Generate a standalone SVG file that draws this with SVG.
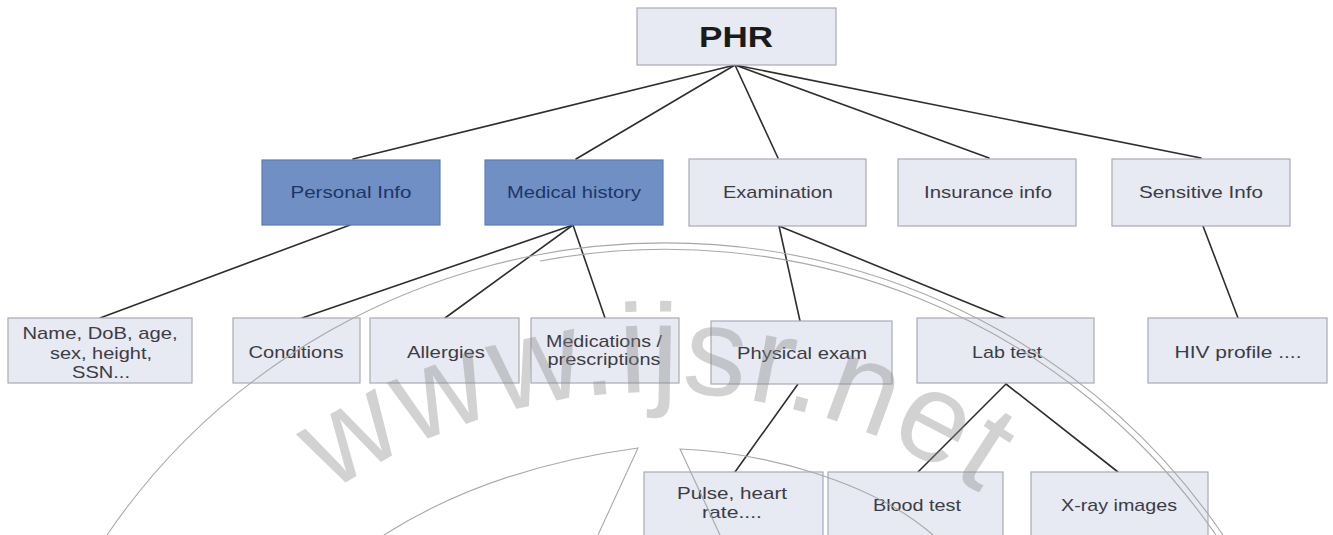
<svg xmlns="http://www.w3.org/2000/svg" width="1333" height="535" viewBox="0 0 1333 535">
  <style>
    .box { fill: #e7e9f3; stroke: #a9abb6; stroke-width: 1.2; }
    .hl { fill: #6f8fc5; stroke: #5d7db3; stroke-width: 1.2; }
    .lbl { font-family: "Liberation Sans", Arial, sans-serif; font-size: 17px; fill: #3c3c44; text-anchor: middle; }
    .lbl-hl { font-family: "Liberation Sans", Arial, sans-serif; font-size: 17px; fill: #1d3567; text-anchor: middle; }
    .root { font-family: "Liberation Sans", Arial, sans-serif; font-size: 30px; font-weight: bold; fill: #1a1a1a; text-anchor: middle; }
    .edge { stroke: #2e2e2e; stroke-width: 1.6; fill: none; stroke-linecap: round; }
    .mark-line { stroke: #a8a8a8; stroke-width: 1.1; fill: none; }
    .mark-text { font-family: "Liberation Sans", Arial, sans-serif; font-size: 126px; fill: #8a8a8a; opacity: 0.38; }
  </style>
  <defs>
    <path id="markArc" d="M 161.4 677 A 570 570 0 0 1 1148.6 677"/>
  </defs>
  <rect width="1333" height="535" fill="#ffffff"/>

  <!-- tree edges -->
  <g id="connectors">
    <line class="edge" x1="735" y1="65" x2="353" y2="159"/>
    <line class="edge" x1="735" y1="65" x2="576" y2="159"/>
    <line class="edge" x1="735" y1="65" x2="778" y2="158"/>
    <line class="edge" x1="735" y1="65" x2="989" y2="158"/>
    <line class="edge" x1="735" y1="65" x2="1201" y2="158"/>
    <line class="edge" x1="350" y1="225" x2="100" y2="318"/>
    <line class="edge" x1="573" y1="225" x2="302" y2="318"/>
    <line class="edge" x1="573" y1="225" x2="445" y2="318"/>
    <line class="edge" x1="573" y1="225" x2="605" y2="318"/>
    <line class="edge" x1="779" y1="226" x2="800" y2="321"/>
    <line class="edge" x1="779" y1="226" x2="1005" y2="318"/>
    <line class="edge" x1="1203" y1="226" x2="1238" y2="318"/>
    <line class="edge" x1="798" y1="384" x2="735" y2="472"/>
    <line class="edge" x1="1006" y1="384" x2="918" y2="472"/>
    <line class="edge" x1="1006" y1="384" x2="1118" y2="472"/>
  </g>

  <!-- root -->
  <g id="phr">
    <rect class="box" x="637" y="8" width="199" height="57"/>
    <text class="root" x="736" y="47" textLength="74" lengthAdjust="spacingAndGlyphs">PHR</text>
  </g>

  <!-- first level -->
  <g id="personal-info">
    <rect class="hl" x="262" y="160" width="178" height="65"/>
    <text class="lbl-hl" x="351" y="198" textLength="121" lengthAdjust="spacingAndGlyphs">Personal Info</text>
  </g>
  <g id="medical-history">
    <rect class="hl" x="485" y="160" width="178" height="65"/>
    <text class="lbl-hl" x="574" y="198" textLength="134" lengthAdjust="spacingAndGlyphs">Medical history</text>
  </g>
  <g id="examination">
    <rect class="box" x="689" y="159" width="177" height="67"/>
    <text class="lbl" x="778" y="198" textLength="110" lengthAdjust="spacingAndGlyphs">Examination</text>
  </g>
  <g id="insurance-info">
    <rect class="box" x="898" y="159" width="178" height="67"/>
    <text class="lbl" x="988" y="198" textLength="128" lengthAdjust="spacingAndGlyphs">Insurance info</text>
  </g>
  <g id="sensitive-info">
    <rect class="box" x="1112" y="159" width="178" height="67"/>
    <text class="lbl" x="1201" y="198" textLength="124" lengthAdjust="spacingAndGlyphs">Sensitive Info</text>
  </g>

  <!-- second level -->
  <g id="identity">
    <rect class="box" x="8" y="318" width="184" height="65"/>
    <text class="lbl" x="100" y="339" textLength="155" lengthAdjust="spacingAndGlyphs">Name, DoB, age,</text>
    <text class="lbl" x="101" y="359" textLength="102" lengthAdjust="spacingAndGlyphs">sex, height,</text>
    <text class="lbl" x="101" y="378" textLength="58" lengthAdjust="spacingAndGlyphs">SSN...</text>
  </g>
  <g id="conditions">
    <rect class="box" x="233" y="318" width="127" height="65"/>
    <text class="lbl" x="296" y="358" textLength="95" lengthAdjust="spacingAndGlyphs">Conditions</text>
  </g>
  <g id="allergies">
    <rect class="box" x="370" y="318" width="149" height="65"/>
    <text class="lbl" x="446" y="358" textLength="78" lengthAdjust="spacingAndGlyphs">Allergies</text>
  </g>
  <g id="medications">
    <rect class="box" x="531" y="318" width="148" height="65"/>
    <text class="lbl" x="604" y="347" textLength="116" lengthAdjust="spacingAndGlyphs">Medications /</text>
    <text class="lbl" x="604" y="365" textLength="113" lengthAdjust="spacingAndGlyphs">prescriptions</text>
  </g>
  <g id="physical-exam">
    <rect class="box" x="711" y="321" width="181" height="63"/>
    <text class="lbl" x="802" y="359" textLength="130" lengthAdjust="spacingAndGlyphs">Physical exam</text>
  </g>
  <g id="lab-test">
    <rect class="box" x="917" y="318" width="177" height="65"/>
    <text class="lbl" x="1007" y="358" textLength="70" lengthAdjust="spacingAndGlyphs">Lab test</text>
  </g>
  <g id="hiv-profile">
    <rect class="box" x="1148" y="318" width="179" height="65"/>
    <text class="lbl" x="1238" y="358" textLength="127" lengthAdjust="spacingAndGlyphs">HIV profile ....</text>
  </g>

  <!-- third level -->
  <g id="pulse">
    <rect class="box" x="644" y="472" width="179" height="70"/>
    <text class="lbl" x="732" y="499" textLength="110" lengthAdjust="spacingAndGlyphs">Pulse, heart</text>
    <text class="lbl" x="732" y="518" textLength="60" lengthAdjust="spacingAndGlyphs">rate....</text>
  </g>
  <g id="blood-test">
    <rect class="box" x="828" y="472" width="175" height="70"/>
    <text class="lbl" x="917" y="511" textLength="88" lengthAdjust="spacingAndGlyphs">Blood test</text>
  </g>
  <g id="x-ray">
    <rect class="box" x="1031" y="472" width="177" height="70"/>
    <text class="lbl" x="1119" y="511" textLength="116" lengthAdjust="spacingAndGlyphs">X-ray images</text>
  </g>

  <!-- publisher watermark: ring, nib strokes and arched site name -->
  <g id="watermark">
    <path class="mark-line" d="M 107 535 A 671 657 0 0 1 1223 535"/>
    <path class="mark-line" d="M 540 261 A 665 651 0 0 1 1216 535"/>
    <path class="mark-line" d="M 384 535 Q 489 468 638 448 L 598 535"/>
    <path class="mark-line" d="M 720 535 L 680 449 C 760 452 870 480 933 535"/>
    <text class="mark-text"><textPath href="#markArc" startOffset="50%" text-anchor="middle" textLength="690" lengthAdjust="spacing">www.ijsr.net</textPath></text>
  </g>
</svg>
